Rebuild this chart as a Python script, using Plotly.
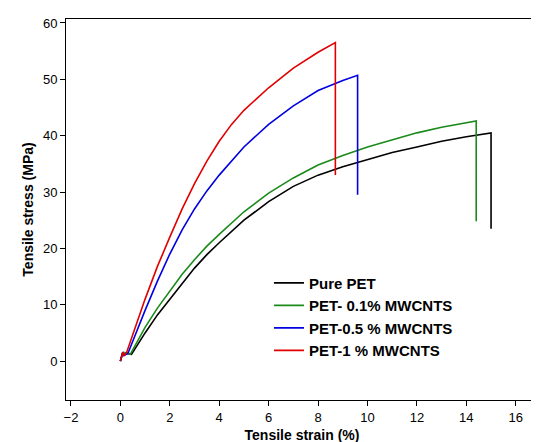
import plotly.graph_objects as go

# tensile curves
pure_x = [0, 0.1, 0.15, 0.2, 0.45, 1, 1.5, 2, 2.5, 3, 3.5, 4, 5, 6, 7, 8, 9, 10, 11, 12, 13, 14, 15, 15]
pure_y = [0, 1.6, 1.0, 1.5, 1.2, 5, 8.2, 11, 13.9, 16.5, 18.9, 21, 25, 28.3, 31, 33, 34.5, 35.8, 37, 38, 39, 39.8, 40.5, 23.5]
g_x = [0, 0.1, 0.15, 0.2, 0.4, 1, 1.5, 2, 2.5, 3, 3.5, 4, 5, 6, 7, 8, 9, 10, 11, 12, 13, 14, 14.4, 14.4]
g_y = [0, 1.6, 1.0, 1.5, 1.2, 6, 9.4, 12.5, 15.4, 18, 20.4, 22.5, 26.5, 29.8, 32.5, 34.8, 36.5, 38, 39.3, 40.5, 41.5, 42.3, 42.6, 24.8]
b_x = [0, 0.1, 0.15, 0.3, 1, 1.5, 2, 2.5, 3, 3.5, 4, 4.5, 5, 6, 7, 8, 9, 9.6, 9.6]
b_y = [0, 1.6, 1.0, 1.3, 9, 14.2, 19, 23.3, 27, 30.2, 33, 35.6, 38, 42, 45.3, 48, 49.8, 50.7, 29.5]
r_x = [0, 0.1, 0.15, 0.25, 1, 1.5, 2, 2.5, 3, 3.5, 4, 4.5, 5, 6, 7, 8, 8.7, 8.7]
r_y = [0, 1.6, 1.0, 1.5, 11, 16.8, 22, 27, 31.5, 35.5, 39, 42, 44.5, 48.5, 52, 54.8, 56.5, 33]

series = [
    ("Pure PET", pure_x, pure_y, "black"),
    ("PET- 0.1% MWCNTS", g_x, g_y, "#1a8a1a"),
    ("PET-0.5 % MWCNTS", b_x, b_y, "#0000e0"),
    ("PET-1 % MWCNTS", r_x, r_y, "#e00000"),
]

fig = go.Figure()
for name, x, y, c in series:
    fig.add_trace(go.Scatter(x=x, y=y, name="<b>" + name + "</b>", mode="lines",
                             line=dict(color=c, width=1.6)))

ax = dict(showgrid=False, zeroline=False, showline=True, linecolor="black", linewidth=1,
          mirror=True, ticks="outside", ticklen=5, tickcolor="black",
          tickfont=dict(size=13, color="black"))
fig.update_layout(
    width=539, height=442, plot_bgcolor="white", paper_bgcolor="white",
    margin=dict(l=58, r=9, t=8, b=50),
    font=dict(family="Liberation Sans, Arial", color="black"),
    xaxis=dict(ax, range=[-2.2, 16.9], dtick=2,
               title=dict(text="<b>Tensile strain (%)</b>", font=dict(size=14), standoff=6)),
    yaxis=dict(ax, range=[-6.9, 60.7], dtick=10,
               title=dict(text="<b>Tensile stress (MPa)</b>", font=dict(size=14), standoff=6)),
    legend=dict(x=0.43, y=0.35, xanchor="left", yanchor="top", bgcolor="rgba(0,0,0,0)",
                font=dict(size=15), tracegroupgap=0, itemwidth=30),
)
fig.write_html("out.html")
